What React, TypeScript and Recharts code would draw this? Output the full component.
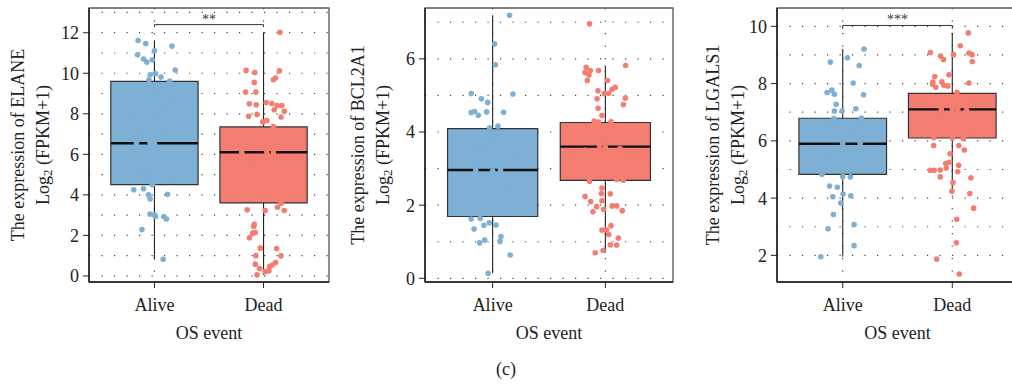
import {
  ComposedChart,
  Scatter,
  XAxis,
  YAxis,
  CartesianGrid,
  ReferenceArea,
  ReferenceLine,
  ReferenceDot,
} from "recharts";

const FONT = '"Liberation Serif", "DejaVu Serif", serif';
const INK = "#222";
const FS = 18;

const groups = ["Alive", "Dead"];
const groupColors = ["#7EB0D5", "#F47D72"];

// [lower whisker, Q1, median, Q3, upper whisker]
const elaneBoxAlive = [0.82, 4.5, 6.55, 9.6, 11.62];
const elaneBoxDead = [0.05, 3.6, 6.1, 7.35, 12.02];
const bcl2a1BoxAlive = [0.14, 1.69, 2.96, 4.09, 7.19];
const bcl2a1BoxDead = [0.7, 2.68, 3.6, 4.26, 5.82];
const lgals1BoxAlive = [1.95, 4.83, 5.9, 6.79, 9.21];
const lgals1BoxDead = [4.24, 6.1, 7.1, 7.66, 9.77];

// jittered samples: [horizontal offset from group centre, log2(FPKM+1)]
type Pt = [number, number];

const elaneAlive: Pt[] = [
  [-0.15, 11.62], [-0.08, 11.46], [0.16, 11.34], [-0.155, 10.91], [-0.1, 10.7],
  [-0.07, 10.55], [-0.02, 10.67], [0.0, 11.11], [0.19, 10.16], [-0.04, 9.93],
  [0.01, 9.98], [0.06, 9.81], [-0.05, 9.68], [0.14, 9.61],
  [-0.165, 6.55], [-0.04, 6.57], [0.0, 6.52], [-0.1, 5.2], [0.05, 7.8], [0.12, 8.6],
  [-0.05, 5.9], [0.15, 4.9], [-0.17, 8.1], [0.02, 9.1], [0.08, 7.1], [-0.08, 6.9], [-0.02, 4.5],
  [-0.19, 4.25], [-0.1, 4.3], [-0.055, 4.0], [-0.04, 3.8], [0.12, 4.03], [-0.04, 3.05],
  [0.0, 3.01], [0.01, 2.93], [0.085, 2.93], [0.11, 2.81], [-0.115, 2.29], [0.08, 0.82],
];

const elaneDead: Pt[] = [
  [0.15, 12.02], [-0.16, 10.14], [-0.08, 10.04], [0.146, 10.12], [0.09, 9.68], [0.11, 9.76],
  [-0.085, 9.55], [-0.165, 9.07], [-0.07, 9.07], [-0.13, 8.49], [-0.067, 8.44], [0.024, 8.56],
  [0.076, 8.51], [0.125, 8.41], [0.168, 8.41], [0.19, 8.12], [0.098, 8.2], [-0.137, 7.88],
  [-0.06, 7.97], [0.16, 7.84], [-0.006, 7.6], [0.03, 7.67], [0.09, 7.37],
  [-0.2, 6.1], [0.03, 6.13], [0.09, 6.08], [-0.12, 5.0], [0.06, 4.6], [0.1, 5.6], [-0.05, 6.8],
  [0.18, 7.0], [-0.15, 4.2], [0.04, 3.9], [0.16, 3.6], [-0.08, 5.4],
  [-0.15, 3.26], [0.015, 3.23], [0.19, 3.23], [0.128, 3.39], [0.16, 3.59], [-0.085, 2.55],
  [-0.09, 2.45], [-0.076, 2.14], [-0.1, 2.11], [-0.13, 1.88], [-0.03, 1.37], [0.12, 1.35],
  [-0.07, 1.0], [0.16, 0.99], [-0.076, 0.58], [0.11, 0.66], [0.08, 0.54], [0.055, 0.46],
  [-0.037, 0.36], [0.015, 0.21], [0.05, 0.26], [-0.06, 0.05],
];

const bcl2a1Alive: Pt[] = [
  [0.15, 7.19], [0.018, 6.41], [0.024, 5.84], [-0.19, 5.05], [0.18, 5.04], [-0.1, 4.91],
  [-0.044, 4.81], [-0.19, 4.53], [-0.16, 4.56], [-0.127, 4.46], [-0.053, 4.55], [0.097, 4.54],
  [-0.027, 4.11], [0.047, 4.16],
  [-0.15, 2.96], [0.07, 2.97], [0.0, 2.93], [-0.1, 3.5], [0.12, 2.3], [0.05, 3.8], [-0.05, 2.0],
  [0.16, 3.2],
  [-0.19, 1.62], [-0.11, 1.64], [-0.03, 1.52], [0.03, 1.46], [-0.077, 1.45], [-0.165, 1.35],
  [0.074, 1.14], [0.065, 1.01], [-0.07, 1.05], [-0.115, 0.97], [0.156, 0.64], [-0.04, 0.14],
];

const bcl2a1Dead: Pt[] = [
  [-0.14, 6.96], [0.18, 5.82], [-0.17, 5.77], [-0.06, 5.68], [-0.18, 5.63], [-0.145, 5.56],
  [-0.133, 5.68], [-0.16, 5.41], [0.02, 5.41], [0.088, 5.22], [0.06, 5.17], [-0.065, 5.13],
  [0.03, 5.06], [-0.01, 5.05], [0.177, 4.93], [-0.074, 4.91], [0.16, 4.75], [-0.065, 4.65],
  [-0.03, 4.45],
  [0.0, 3.58], [-0.05, 3.62], [0.13, 3.55], [-0.18, 3.5], [0.1, 2.7], [-0.14, 2.65], [0.16, 2.68],
  [-0.06, 4.27], [0.05, 4.28], [-0.1, 4.3], [0.08, 3.1],
  [-0.18, 2.24], [-0.13, 2.1], [-0.03, 2.47], [-0.035, 2.32], [0.044, 2.31], [-0.03, 2.12],
  [-0.077, 1.96], [-0.11, 1.82], [-0.015, 1.89], [0.06, 1.98], [0.1, 1.98], [0.15, 1.85],
  [-0.03, 1.32], [0.01, 1.32], [0.05, 1.44], [0.03, 1.2], [0.115, 1.1], [0.044, 0.92],
  [0.1, 0.91], [-0.02, 0.76], [-0.09, 0.7],
];

const lgals1Alive: Pt[] = [
  [0.195, 9.21], [0.043, 8.9], [-0.113, 8.75], [0.15, 8.63], [0.095, 8.02], [-0.143, 7.69],
  [-0.1, 7.77], [-0.076, 7.63], [0.19, 7.61], [-0.06, 7.28], [0.12, 7.12], [-0.076, 7.04],
  [-0.006, 7.04],
  [-0.08, 6.78], [0.17, 6.8], [0.16, 5.92], [0.0, 5.9], [-0.12, 5.5], [0.1, 6.3], [0.0, 4.75],
  [0.07, 4.74], [-0.19, 4.83],
  [-0.12, 4.42], [-0.05, 4.38], [-0.09, 4.05], [0.003, 4.14], [0.073, 4.08], [-0.018, 3.83],
  [-0.085, 3.43], [-0.134, 2.93], [0.104, 3.08], [0.104, 2.34], [-0.2, 1.95],
];

const lgals1Dead: Pt[] = [
  [0.146, 9.77], [0.073, 9.32], [-0.2, 9.08], [-0.107, 8.96], [-0.08, 8.84], [0.012, 9.01],
  [0.152, 9.07], [0.18, 9.01], [0.183, 8.77], [-0.16, 8.25], [-0.03, 8.31], [-0.177, 8.05],
  [-0.095, 8.06], [-0.18, 7.98], [-0.15, 7.87], [-0.076, 7.94], [-0.04, 7.92], [0.152, 8.02],
  [0.043, 7.7],
  [-0.1, 7.1], [0.0, 7.12], [0.05, 7.1], [0.13, 7.08], [-0.17, 6.12], [0.1, 6.08], [0.0, 6.1],
  [-0.05, 6.6], [0.15, 7.4],
  [-0.17, 5.84], [0.11, 5.68], [0.06, 5.84], [-0.02, 5.55], [-0.06, 5.21], [-0.03, 5.25],
  [0.058, 5.15], [-0.11, 4.98], [-0.2, 4.97], [-0.165, 4.97], [-0.055, 5.05], [-0.11, 4.74],
  [0.05, 4.92], [0.17, 4.71], [0.006, 4.54], [-0.003, 4.24], [0.16, 4.16], [0.195, 3.65],
  [0.04, 3.26], [0.037, 2.44], [-0.143, 1.87], [0.064, 1.35],
];

const elaneTicks = [0, 2, 4, 6, 8, 10, 12];
const elaneGrid = [0, 1, 2, 3, 4, 5, 6, 7, 8, 9, 10, 11, 12, 13];
const bcl2a1Ticks = [0, 2, 4, 6];
const bcl2a1Grid = [0, 1, 2, 3, 4, 5, 6, 7];
const lgals1Ticks = [2, 4, 6, 8, 10];
const lgals1Grid = [2, 3, 4, 5, 6, 7, 8, 9, 10];

const BOX_HALF = 0.4;

interface Signif {
  y: number;
  text: string;
}

interface PanelProps {
  gene: string;
  left: number;
  width: number;
  yAxisWidth: number;
  marginRight: number;
  domain: [number, number];
  ticks: number[];
  grid: number[];
  boxes: number[][];
  points: Pt[][];
  sig?: Signif;
}

function YTitle(props: any) {
  const vb = props.viewBox || { x: 0, y: 8, width: 89, height: 274 };
  const cy = vb.y + vb.height / 2;
  const x1 = 18;
  const x2 = 43;
  return (
    <g fontFamily={FONT} fontSize={FS} fill={INK}>
      <text
        x={x1}
        y={cy}
        textAnchor="middle"
        dominantBaseline="central"
        transform={`rotate(-90 ${x1} ${cy})`}
      >
        The expression of {props.gene}
      </text>
      <text
        x={x2}
        y={cy}
        textAnchor="middle"
        dominantBaseline="central"
        transform={`rotate(-90 ${x2} ${cy})`}
      >
        Log
        <tspan dy={4} fontSize={13}>2</tspan>
        <tspan dy={-4}> (FPKM+1)</tspan>
      </text>
    </g>
  );
}

function XTitle(props: any) {
  const vb = props.viewBox || { x: 89, y: 282, width: 240, height: 103 };
  return (
    <text
      x={vb.x + vb.width / 2}
      y={vb.y + 51}
      textAnchor="middle"
      dominantBaseline="central"
      fontFamily={FONT}
      fontSize={FS}
      fill={INK}
    >
      OS event
    </text>
  );
}

function Panel({
  gene,
  left,
  width,
  yAxisWidth,
  marginRight,
  domain,
  ticks,
  grid,
  boxes,
  points,
  sig,
}: PanelProps) {
  return (
    <div style={{ position: "absolute", left, top: 0, fontFamily: FONT }}>
      <ComposedChart
        width={width}
        height={385}
        margin={{ top: 8, right: marginRight, bottom: 0, left: 0 }}
        style={{ fontFamily: FONT }}
      >
        <CartesianGrid
          horizontalValues={grid}
          verticalValues={[0, 1]}
          stroke="#444"
          strokeWidth={1.2}
          strokeDasharray="1.2 11.3"
        />
        <XAxis
          type="number"
          dataKey="x"
          domain={[-0.6, 1.6]}
          ticks={[0, 1]}
          interval={0}
          allowDataOverflow
          tickFormatter={(v: number) => groups[v]}
          height={103}
          tickSize={6}
          tickMargin={10}
          axisLine={{ stroke: INK, strokeWidth: 1.6 }}
          tickLine={{ stroke: INK }}
          tick={{ fill: INK, fontSize: FS, fontFamily: FONT }}
          label={{ content: (p: any) => <XTitle {...p} /> }}
        />
        <YAxis
          type="number"
          dataKey="y"
          domain={domain}
          ticks={ticks}
          interval={0}
          allowDataOverflow
          width={yAxisWidth}
          tickSize={6}
          tickMargin={4}
          axisLine={{ stroke: INK, strokeWidth: 1.6 }}
          tickLine={{ stroke: INK }}
          tick={{ fill: INK, fontSize: FS, fontFamily: FONT }}
          label={{ content: (p: any) => <YTitle {...p} gene={gene} /> }}
        />

        {/* panel frame */}
        <ReferenceArea
          x1={-0.6}
          x2={1.6}
          y1={domain[0]}
          y2={domain[1]}
          fill="none"
          stroke="#555"
          strokeWidth={1.3}
          ifOverflow="visible"
        />

        {/* whiskers */}
        {boxes.map((b, i) => [
          <ReferenceLine
            key={`wl-${i}`}
            segment={[{ x: i, y: b[0] }, { x: i, y: b[1] }]}
            stroke={INK}
            strokeWidth={1.1}
          />,
          <ReferenceLine
            key={`wh-${i}`}
            segment={[{ x: i, y: b[3] }, { x: i, y: b[4] }]}
            stroke={INK}
            strokeWidth={1.1}
          />,
        ])}

        {/* boxes */}
        {boxes.map((b, i) => (
          <ReferenceArea
            key={`box-${i}`}
            x1={i - BOX_HALF}
            x2={i + BOX_HALF}
            y1={b[1]}
            y2={b[3]}
            fill={groupColors[i]}
            fillOpacity={1}
            stroke="#333"
            strokeWidth={1.2}
          />
        ))}

        {/* medians */}
        {boxes.map((b, i) => (
          <ReferenceLine
            key={`med-${i}`}
            segment={[{ x: i - BOX_HALF, y: b[2] }, { x: i + BOX_HALF, y: b[2] }]}
            stroke="#111"
            strokeWidth={2.4}
          />
        ))}

        {/* significance bracket */}
        {sig && [
          <ReferenceLine
            key="sig-h"
            segment={[{ x: 0, y: sig.y }, { x: 1, y: sig.y }]}
            stroke="#333"
            strokeWidth={1}
          />,
          <ReferenceLine
            key="sig-l"
            segment={[{ x: 0, y: sig.y }, { x: 0, y: sig.y - 0.12 }]}
            stroke="#333"
            strokeWidth={1}
          />,
          <ReferenceLine
            key="sig-r"
            segment={[{ x: 1, y: sig.y }, { x: 1, y: sig.y - 0.12 }]}
            stroke="#333"
            strokeWidth={1}
          />,
          <ReferenceDot
            key="sig-t"
            x={0.5}
            y={sig.y}
            r={0}
            fill="none"
            stroke="none"
            label={{
              value: sig.text,
              position: "top",
              offset: 1,
              fill: "#333",
              fontSize: 14,
              fontFamily: FONT,
            }}
          />,
        ]}

        {points.map((pts, i) => (
          <Scatter
            key={`pts-${i}`}
            data={pts.map(([dx, v]) => ({ x: i + dx, y: v }))}
            isAnimationActive={false}
            shape={(p: any) => (
              <circle cx={p.cx} cy={p.cy} r={2.8} fill={groupColors[i]} />
            )}
          />
        ))}
      </ComposedChart>
    </div>
  );
}

export default function App() {
  return (
    <div
      style={{
        position: "fixed",
        left: 0,
        top: 0,
        width: 1012,
        height: 385,
        overflow: "hidden",
        background: "#fff",
        fontFamily: FONT,
      }}
    >
      <Panel
        gene="ELANE"
        left={0}
        width={340}
        yAxisWidth={89}
        marginRight={11}
        domain={[-0.3, 13.22]}
        ticks={elaneTicks}
        grid={elaneGrid}
        boxes={[elaneBoxAlive, elaneBoxDead]}
        points={[elaneAlive, elaneDead]}
        sig={{ y: 12.4, text: "**" }}
      />
      <Panel
        gene="BCL2A1"
        left={340}
        width={340}
        yAxisWidth={85}
        marginRight={7}
        domain={[-0.1, 7.39]}
        ticks={bcl2a1Ticks}
        grid={bcl2a1Grid}
        boxes={[bcl2a1BoxAlive, bcl2a1BoxDead]}
        points={[bcl2a1Alive, bcl2a1Dead]}
      />
      <Panel
        gene="LGALS1"
        left={695}
        width={330}
        yAxisWidth={82}
        marginRight={7}
        domain={[1.07, 10.64]}
        ticks={lgals1Ticks}
        grid={lgals1Grid}
        boxes={[lgals1BoxAlive, lgals1BoxDead]}
        points={[lgals1Alive, lgals1Dead]}
        sig={{ y: 10.03, text: "***" }}
      />
      <div
        style={{
          position: "absolute",
          left: 0,
          width: 1012,
          top: 359,
          textAlign: "center",
          fontFamily: FONT,
          fontSize: FS,
          color: INK,
        }}
      >
        (c)
      </div>
    </div>
  );
}
